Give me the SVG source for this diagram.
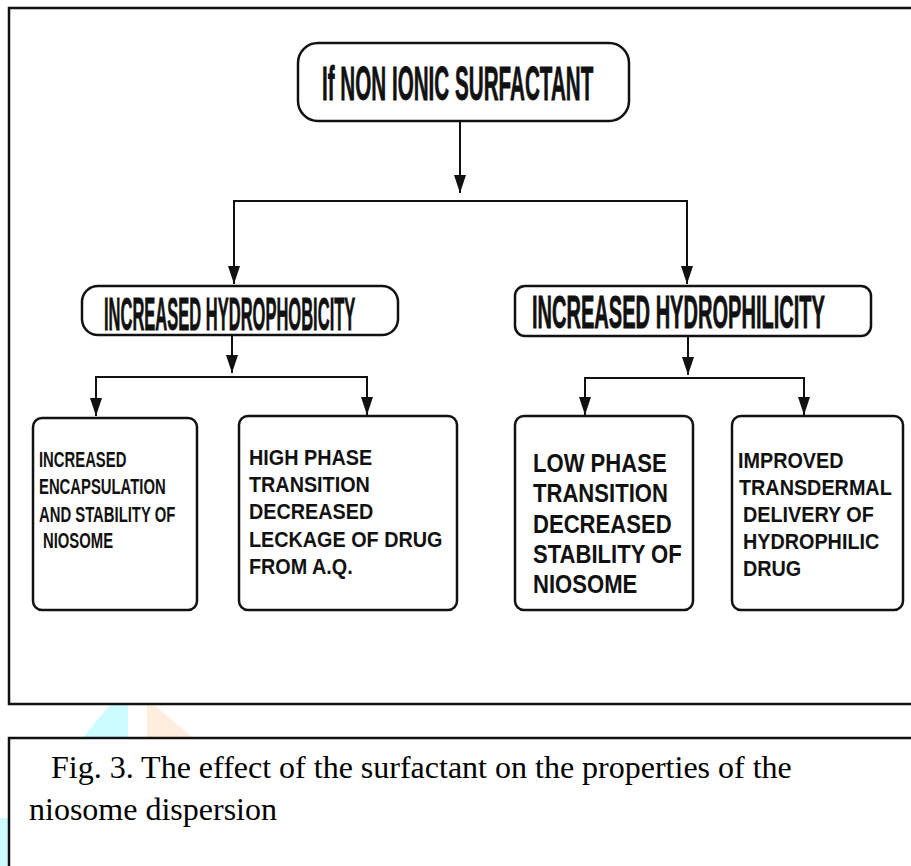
<svg xmlns="http://www.w3.org/2000/svg" width="911" height="866" viewBox="0 0 911 866">
<style>
.box{fill:#fff;stroke:#111;stroke-width:2.5}
.frame{fill:none;stroke:#111;stroke-width:2.5}
.con{fill:none;stroke:#111;stroke-width:2}
.h{font-family:"Liberation Sans",Arial,sans-serif;font-weight:bold;fill:#111}
.big{stroke:#111;stroke-width:0.8}
.s22{font-size:22px}
.s25{font-size:25px}
.cap{font-family:"Liberation Serif","Times New Roman",serif;font-size:32px;fill:#000}
</style>
<defs>
<marker id="ah" viewBox="0 0 18 12" markerWidth="18" markerHeight="12" refX="18" refY="6" orient="auto" markerUnits="userSpaceOnUse">
<path d="M0,0 L18,6 L0,12 z" fill="#111"/>
</marker>
</defs>
<rect width="911" height="866" fill="#fff"/>
<g id="watermark">
<polygon points="110,705 128,705 128,737 83,737" fill="#ccfcff"/>
<polygon points="147,705 154,705 192,737 147,737" fill="#ffeedd"/>
<rect x="0" y="818" width="8" height="48" fill="#ccfcff"/>
</g>
<rect class="frame" x="9" y="8" width="920" height="696"/>
<g id="connectors">
<line class="con" x1="460" y1="121" x2="460" y2="193" marker-end="url(#ah)"/>
<polyline class="con" points="234,201 687,201"/>
<line class="con" x1="234" y1="200" x2="234" y2="284" marker-end="url(#ah)"/>
<line class="con" x1="687" y1="200" x2="687" y2="284" marker-end="url(#ah)"/>
<line class="con" x1="232" y1="335" x2="232" y2="373" marker-end="url(#ah)"/>
<polyline class="con" points="96,377 367,377"/>
<line class="con" x1="96" y1="376" x2="96" y2="416" marker-end="url(#ah)"/>
<line class="con" x1="367" y1="376" x2="367" y2="415" marker-end="url(#ah)"/>
<line class="con" x1="688" y1="336" x2="688" y2="375" marker-end="url(#ah)"/>
<polyline class="con" points="585,378 804,378"/>
<line class="con" x1="585" y1="377" x2="585" y2="415" marker-end="url(#ah)"/>
<line class="con" x1="804" y1="377" x2="804" y2="415" marker-end="url(#ah)"/>
</g>
<g id="n-top">
<rect class="box" x="298" y="43" width="331" height="78" rx="20"/>
<text class="h big" font-size="48" transform="translate(322,100) scale(0.43,1)">If NON IONIC SURFACTANT</text>
</g>
<g id="n-hydrophobicity">
<rect class="box" x="82" y="286" width="316" height="49" rx="16"/>
<text class="h big" font-size="46" transform="translate(104,330) scale(0.359,1)">INCREASED HYDROPHOBICITY</text>
</g>
<g id="n-hydrophilicity">
<rect class="box" x="515" y="286" width="356" height="50" rx="10"/>
<text class="h big" font-size="46" transform="translate(532,328) scale(0.436,1)">INCREASED HYDROPHILICITY</text>
</g>
<g id="n-encapsulation">
<rect class="box" x="33" y="418" width="164" height="192" rx="9"/>
<text class="h s22" transform="translate(39,467) scale(0.675,1)">INCREASED</text>
<text class="h s22" transform="translate(39,494) scale(0.675,1)">ENCAPSULATION</text>
<text class="h s22" transform="translate(39,522) scale(0.675,1)">AND STABILITY OF</text>
<text class="h s22" transform="translate(43,548) scale(0.675,1)">NIOSOME</text>
</g>
<g id="n-high-phase">
<rect class="box" x="239" y="416" width="218" height="194" rx="9"/>
<text class="h s22" transform="translate(249,465) scale(0.9,1)">HIGH PHASE</text>
<text class="h s22" transform="translate(249,492) scale(0.9,1)">TRANSITION</text>
<text class="h s22" transform="translate(249,519) scale(0.9,1)">DECREASED</text>
<text class="h s22" transform="translate(249,547) scale(0.9,1)">LECKAGE OF DRUG</text>
<text class="h s22" transform="translate(249,574) scale(0.9,1)">FROM A.Q.</text>
</g>
<g id="n-low-phase">
<rect class="box" x="515" y="416" width="178" height="194" rx="9"/>
<text class="h s25" transform="translate(533,472) scale(0.883,1)">LOW PHASE</text>
<text class="h s25" transform="translate(533,502) scale(0.883,1)">TRANSITION</text>
<text class="h s25" transform="translate(533,533) scale(0.883,1)">DECREASED</text>
<text class="h s25" transform="translate(533,563) scale(0.883,1)">STABILITY OF</text>
<text class="h s25" transform="translate(533,593) scale(0.883,1)">NIOSOME</text>
</g>
<g id="n-transdermal">
<rect class="box" x="732" y="416" width="171" height="194" rx="9"/>
<text class="h s22" transform="translate(738,468) scale(0.9,1)">IMPROVED</text>
<text class="h s22" transform="translate(739,495) scale(0.9,1)">TRANSDERMAL</text>
<text class="h s22" transform="translate(743,522) scale(0.9,1)">DELIVERY OF</text>
<text class="h s22" transform="translate(743,549) scale(0.9,1)">HYDROPHILIC</text>
<text class="h s22" transform="translate(743,576) scale(0.9,1)">DRUG</text>
</g>
<g id="caption">
<rect class="frame" x="9" y="738" width="920" height="200"/>
<text class="cap" x="51" y="778">Fig. 3. The effect of the surfactant on the properties of the</text>
<text class="cap" x="29" y="820">niosome dispersion</text>
</g>
</svg>
